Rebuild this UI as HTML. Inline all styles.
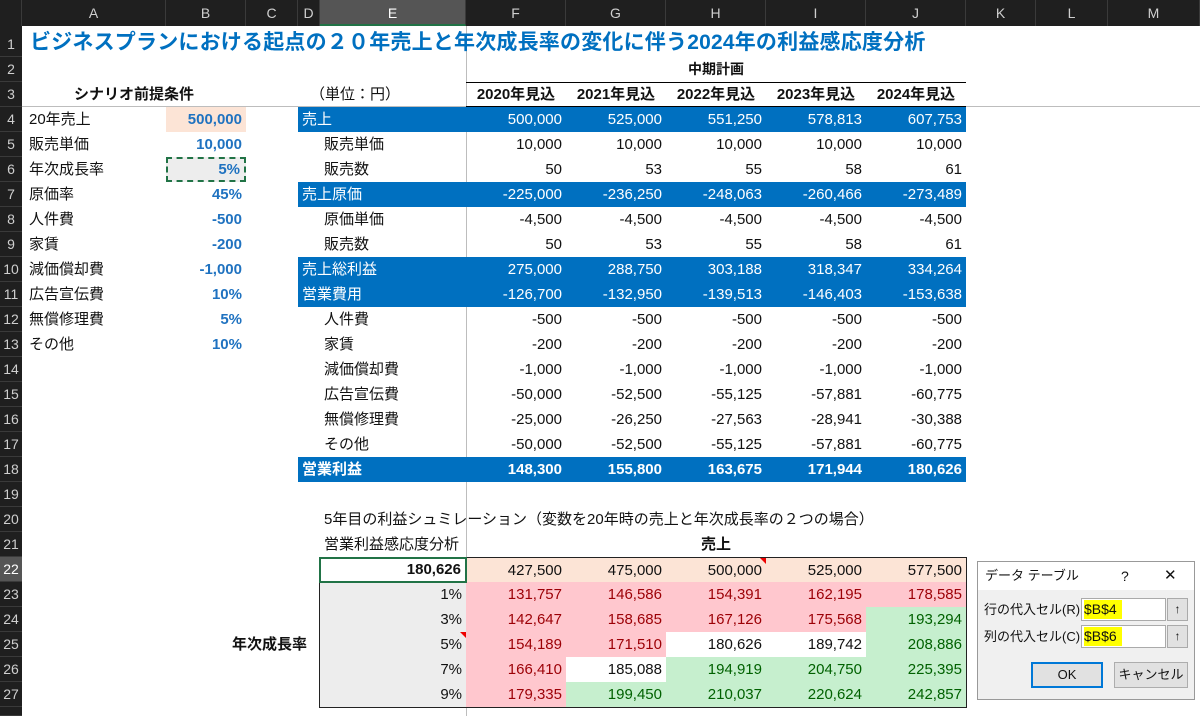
<!DOCTYPE html>
<html><head><meta charset="utf-8">
<style>
html{overflow:hidden;width:1200px;height:716px}
body{margin:0;width:1200px;height:716px;overflow:hidden;background:#fff;font-family:"Liberation Sans","Noto Sans CJK JP",sans-serif;position:relative}
.a{position:absolute;box-sizing:border-box;white-space:nowrap}
.hd{background:#1f1f1f;color:#cfcfcf;font-size:14px;text-align:center;line-height:26px;border-right:1px solid #3a3a3a}
.rh{background:#1f1f1f;color:#cfcfcf;font-size:14px;text-align:center;border-bottom:1px solid #3a3a3a;width:22px;left:0}
.c{font-size:15px;line-height:25px;height:25px;color:#111}
.r{text-align:right;padding-right:4px}
.b{font-weight:bold}
</style></head><body>
<div id="root"></div>
<script>
const colEdges=[22,166,246,298,320,466,566,666,766,866,966,1036,1108,1200];
const colNames=['A','B','C','D','E','F','G','H','I','J','K','L','M'];
const years=['2020年見込','2021年見込','2022年見込','2023年見込','2024年見込'];
const condLabels=['20年売上','販売単価','年次成長率','原価率','人件費','家賃','減価償却費','広告宣伝費','無償修理費','その他'];
const condValues=['500,000','10,000','5%','45%','-500','-200','-1,000','10%','5%','10%'];
const planLabels=['売上','販売単価','販売数','売上原価','原価単価','販売数','売上総利益','営業費用','人件費','家賃','減価償却費','広告宣伝費','無償修理費','その他','営業利益'];
const planBand=[1,0,0,1,0,0,1,1,0,0,0,0,0,0,1];
const planValues=[
['500,000','525,000','551,250','578,813','607,753'],
['10,000','10,000','10,000','10,000','10,000'],
['50','53','55','58','61'],
['-225,000','-236,250','-248,063','-260,466','-273,489'],
['-4,500','-4,500','-4,500','-4,500','-4,500'],
['50','53','55','58','61'],
['275,000','288,750','303,188','318,347','334,264'],
['-126,700','-132,950','-139,513','-146,403','-153,638'],
['-500','-500','-500','-500','-500'],
['-200','-200','-200','-200','-200'],
['-1,000','-1,000','-1,000','-1,000','-1,000'],
['-50,000','-52,500','-55,125','-57,881','-60,775'],
['-25,000','-26,250','-27,563','-28,941','-30,388'],
['-50,000','-52,500','-55,125','-57,881','-60,775'],
['148,300','155,800','163,675','171,944','180,626']];
const sales=['427,500','475,000','500,000','525,000','577,500'];
const rates=['1%','3%','5%','7%','9%'];
const sens=[
[131757,146586,154391,162195,178585],
[142647,158685,167126,175568,193294],
[154189,171510,180626,189742,208886],
[166410,185088,194919,204750,225395],
[179335,199450,210037,220624,242857]];
const base=180626;
const root=document.getElementById('root');
function rowTop(n){return n===1?26:57+(n-2)*25;}
function mk(cls,x,y,w,h,txt,name,style){
 const d=document.createElement('div');d.className='a '+cls;
 d.style.left=x+'px';d.style.top=y+'px';if(w!=null)d.style.width=w+'px';if(h!=null)d.style.height=h+'px';
 if(txt!=null)d.textContent=txt;
 
 
 if(style)Object.assign(d.style,style);
 root.appendChild(d);return d;}
mk('hd',0,0,22,26,'','select-all');
colNames.forEach((n,i)=>{const sel=n==='E';
 mk('hd',colEdges[i],0,colEdges[i+1]-colEdges[i],26,n,'column-header-'+n.toLowerCase(),sel?{background:'#555',color:'#fff',borderBottom:'2px solid #217346'}:null);});
for(let r=1;r<=28;r++){const t=rowTop(r),h=r===1?31:(r===28?9:25);
 mk('rh',0,t,22,h,r===28?'':String(r),'row-header-'+r,{lineHeight:(h+(r===1?6:0))+'px',background:r===22?'#555':'#1f1f1f',color:r===22?'#fff':'#cfcfcf'});}
mk('',22,106,1178,1,null,'freeze-line-h',{background:'#bdbdbd'});
mk('',466,26,1,690,null,'freeze-line-v',{background:'#bdbdbd'});
mk('c b',30,28,null,30,'ビジネスプランにおける起点の２０年売上と年次成長率の変化に伴う2024年の利益感応度分析','title',{fontSize:'21px',color:'#0070c0',lineHeight:'30px',height:'30px',letterSpacing:'0.2px'});
mk('c b',466,rowTop(2),500,25,'中期計画','mid-term-plan-header',{textAlign:'center',fontSize:'14px'});
mk('c b',22,rowTop(3),224,25,'シナリオ前提条件','scenario-header',{textAlign:'center'});
mk('c',310,rowTop(3),100,25,'（単位：円）','unit-label');
mk('',466,rowTop(3),500,1,null,'header-top-border',{background:'#000'});
mk('',466,rowTop(4)-1,500,1,null,'header-bottom-border',{background:'#000'});
years.forEach((y,i)=>{mk('c b',colEdges[5+i],rowTop(3),100,25,y,'year-header-'+y.slice(0,4),{textAlign:'center',fontSize:'15px'});});
condLabels.forEach((l,i)=>{const t=rowTop(4+i);
 mk('c',29,t,140,25,l,'condition-label');
 const st={color:'#1f72c0'};
 if(i===0)st.background='#fce4d6';
 if(i===2){st.background='#ededed';st.border='2px dashed #217346';st.lineHeight='21px';}
 const v=mk('c b r',166,t,80,25,condValues[i],'condition-value',st);
 });
planLabels.forEach((l,i)=>{const t=rowTop(4+i);const band=planBand[i];
 if(band)mk('',298,t,668,25,null,'band-row',{background:'#0070c0'});
 mk('c'+(i===14?' b':''),band?302:324,t,140,25,l,'plan-label',band?{color:'#fff'}:null);
 planValues[i].forEach((v,j)=>{mk('c r'+(i===14?' b':''),colEdges[5+j],t,100,25,v,'plan-value',band?{color:'#fff'}:null);});});
mk('c',324,rowTop(20),600,25,'5年目の利益シュミレーション（変数を20年時の売上と年次成長率の２つの場合）','simulation-title');
mk('c',324,rowTop(21),140,25,'営業利益感応度分析','sensitivity-label');
mk('c b',466,rowTop(21),500,25,'売上','sales-axis-title',{textAlign:'center'});
mk('c b',232,rowTop(25),80,25,'年次成長率','growth-axis-title');
mk('',319,rowTop(22),648,151,null,'table-border',{border:'1px solid #222'});
mk('',320,rowTop(23),146,125,null,'rate-column-fill',{background:'#ededed'});
sales.forEach((s,j)=>{mk('c r',colEdges[5+j],rowTop(22)+1,100,25,s,'sales-input-'+j,{background:'#fce4d6'});});
rates.forEach((r,i)=>{mk('c r',320,rowTop(23+i),146,25,r,'rate-input-'+r);
 sens[i].forEach((v,j)=>{let bg='#fff',fg='#111';
  if(v<base){bg='#ffc7ce';fg='#9c0006';}else if(v>base+10000){bg='#c6efce';fg='#006100';}
  mk('c r',colEdges[5+j],rowTop(23+i),100,25,v.toLocaleString('en-US'),'sensitivity-cell',{background:bg,color:fg});});});
const e22=mk('c b r',319,rowTop(22),148,26,base.toLocaleString('en-US'),'base-profit-cell',{border:'2px solid #217346',lineHeight:'22px',background:'#fff'});

mk('',760,rowTop(22)+1,0,0,null,'comment-marker',{borderTop:'6px solid #e00',borderLeft:'6px solid transparent'});
mk('',460,rowTop(25),0,0,null,'comment-marker',{borderTop:'6px solid #e00',borderLeft:'6px solid transparent'});
mk('',977,561,218,139,null,'data-table-dialog',{background:'#f0f0f0',border:'1px solid #999'});
mk('',978,562,216,28,null,'dialog-titlebar',{background:'#fff'});
mk('c',985,563,100,26,'データ テーブル','dialog-title',{fontSize:'13px',lineHeight:'26px'});
mk('c',1121,563,14,26,'?','help-button',{fontSize:'14px',lineHeight:'26px'});
mk('c',1164,563,16,26,'✕','close-button',{fontSize:'15px',lineHeight:'26px'});
mk('c',984,597,100,25,'行の代入セル(R):','row-input-label',{fontSize:'13px'});
mk('c',984,624,100,25,'列の代入セル(C):','column-input-label',{fontSize:'13px'});
[['row-input-field','$B$4',598],['column-input-field','$B$6',625]].forEach(([n,v,y])=>{
 const f=mk('',1081,y,85,23,null,n,{background:'#fff',border:'1px solid #aaa'});
 mk('c',1084,y+2,38,19,v,n+'-value',{background:'#ffff00',fontSize:'14px',lineHeight:'19px',height:'19px'});
 mk('c',1167,y,21,23,'↑','collapse-button',{background:'#e1e1e1',border:'1px solid #aaa',fontSize:'12px',textAlign:'center',lineHeight:'21px',fontWeight:'bold'});});
mk('c',1031,662,72,26,'OK','ok-button',{background:'#e1e1e1',border:'2px solid #0078d7',textAlign:'center',lineHeight:'22px',fontSize:'13px'});
mk('c',1114,662,74,26,'キャンセル','cancel-button',{background:'#e1e1e1',border:'1px solid #adadad',textAlign:'center',lineHeight:'24px',fontSize:'13px'});
</script>
</body></html>
